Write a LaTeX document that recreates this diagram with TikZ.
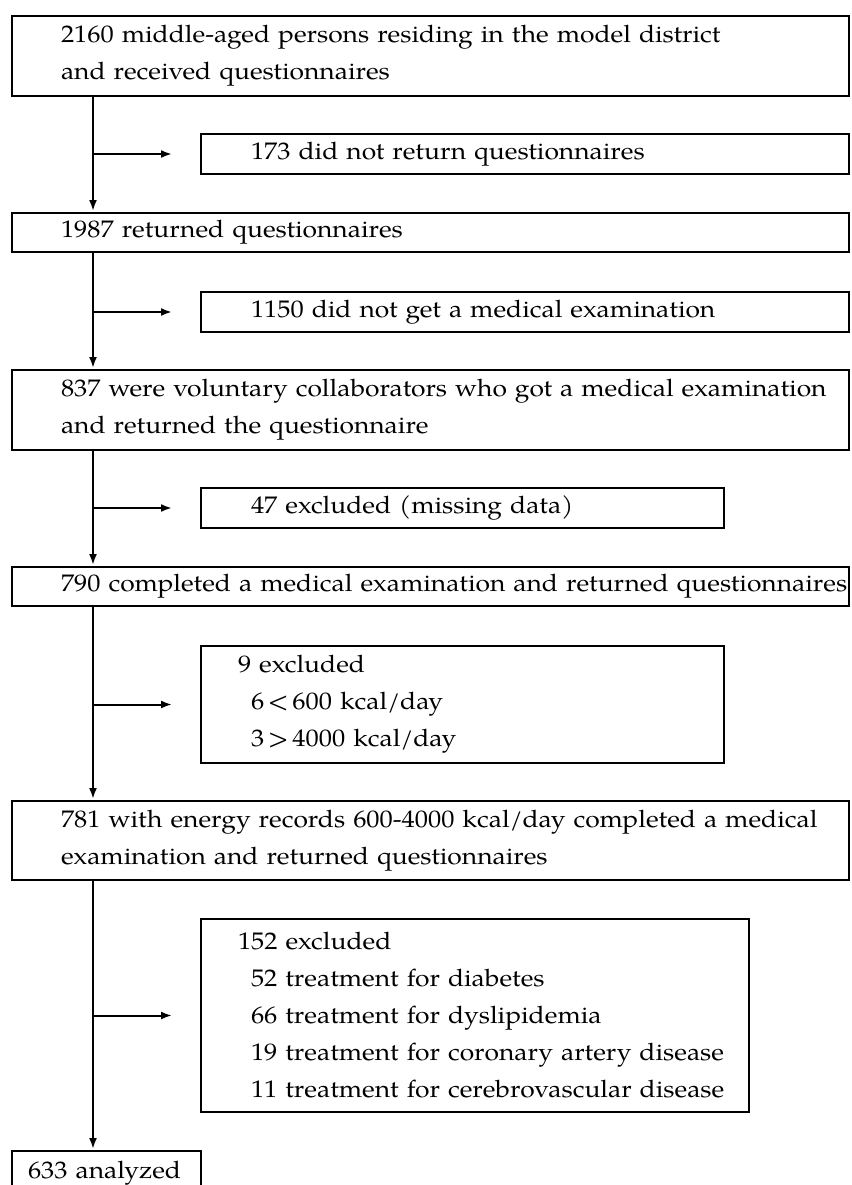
\documentclass[tikz,border=0pt]{standalone}
\usepackage{fontspec}
\setmainfont{texgyrepagella}[Extension=.otf,UprightFont=*-regular,BoldFont=*-bold,ItalicFont=*-italic,BoldItalicFont=*-bolditalic,FakeStretch=1.1]
\usetikzlibrary{arrows,arrows.meta,positioning,calc}
\begin{document}
\begin{tikzpicture}[x=1pt,y=-1pt,shorten >=1pt,font=\fontsize{24}{37}\selectfont,
   stagebox/.style={draw,line width=2pt,anchor=north west,align=left,inner ysep=0pt},
   widebox/.style={stagebox,text width=739pt,inner xsep=49pt},
   sidebox/.style={stagebox,text width=548pt,inner xsep=50pt,minimum height=40pt},
   flow/.style={-{Latex[length=11pt,width=8pt]},line width=2pt}]
   \useasboundingbox (0,0) rectangle (851,1185);
   \coordinate (trunk) at (93,0);
   % main column
   \node (recv) at (11,15)[widebox,minimum height=80pt] {\mbox{2160 middle-aged persons residing in the model district}\\\mbox{and received questionnaires}};
   \node (ret) at (11,212)[widebox,minimum height=39pt] {\mbox{1987 returned questionnaires}};
   \node (volun) at (11,369)[widebox,minimum height=80pt] {\mbox{837 were voluntary collaborators who got a medical examination}\\\mbox{and returned the questionnaire}};
   \node (compl) at (11,566)[widebox,minimum height=39pt] {\mbox{790 completed a medical examination and returned questionnaires}};
   \node (energy) at (11,800)[widebox,minimum height=79pt] {\mbox{781 with energy records 600-4000 kcal/day completed a medical}\\\mbox{examination and returned questionnaires}};
   \node (analyzed) at (11,1150)[stagebox,text width=157pt,inner xsep=16pt,minimum height=44pt] {\mbox{633 analyzed}};
   % exclusions
   \node (noret) at (200,133)[sidebox] {\mbox{173 did not return questionnaires}};
   \node (noexam) at (200,291)[sidebox] {\mbox{1150 did not get a medical examination}};
   \node (missing) at (200,487)[sidebox,text width=423pt] {\mbox{47 excluded (missing data)}};
   \node (energyout) at (200,645)[stagebox,text width=449pt,inner xsep=37pt,minimum height=117pt] {\mbox{9 excluded}\\
     \hspace*{13pt}\mbox{6\,<\,600 kcal/day}\\
     \hspace*{13pt}\mbox{3\,>\,4000 kcal/day}};
   \node (treat) at (200,918)[stagebox,text width=474pt,inner xsep=37pt,minimum height=193pt] {\mbox{152 excluded}\\
     \hspace*{13pt}\mbox{52 treatment for diabetes}\\
     \hspace*{13pt}\mbox{66 treatment for dyslipidemia}\\
     \hspace*{13pt}\mbox{19 treatment for coronary artery disease}\\
     \hspace*{13pt}\mbox{11 treatment for cerebrovascular disease}};
   % connectors
   \foreach \a/\b in {recv/ret,ret/volun,volun/compl,compl/energy,energy/analyzed}
     \draw[flow] (\a.south -| trunk) -- (\b.north -| trunk);
   \foreach \c in {noret,noexam,missing,energyout,treat}
     \draw[flow,shorten >=28pt] (trunk |- \c.west) -- (\c.west);
\end{tikzpicture}
\end{document}
